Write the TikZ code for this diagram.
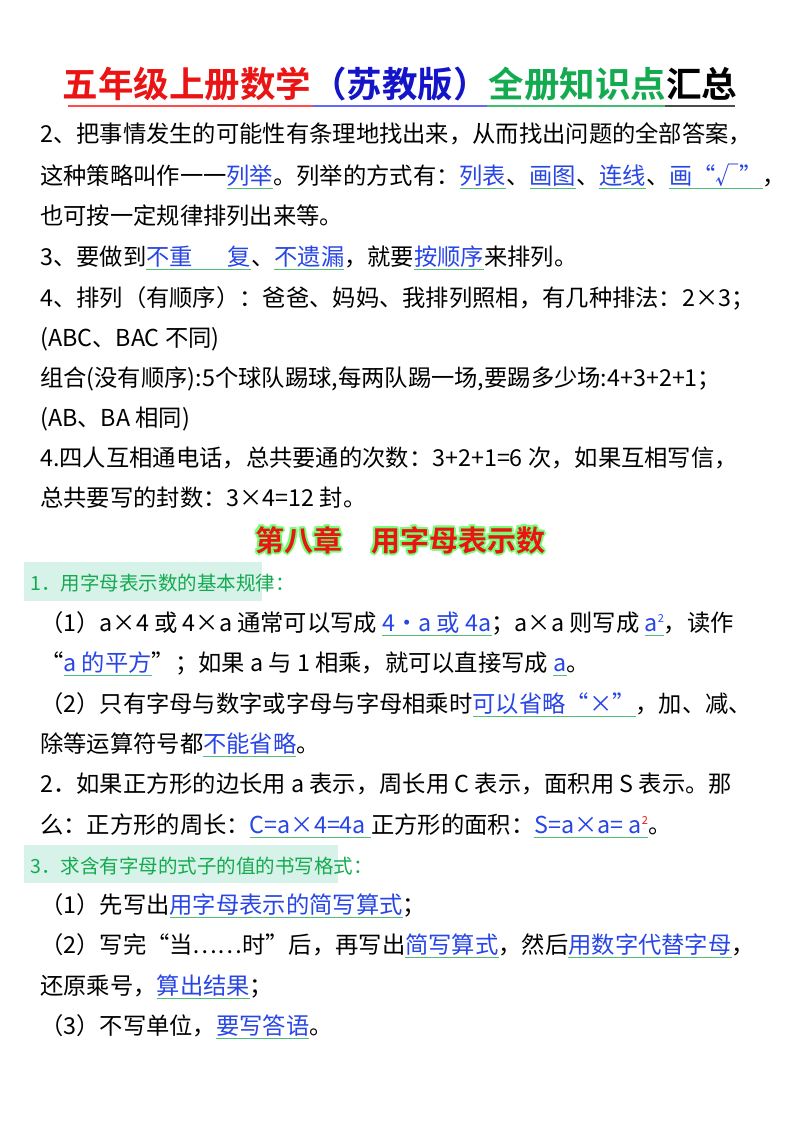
\documentclass[tikz,border=0pt]{standalone}
\usepackage{fontspec}
\setmainfont{Noto Sans CJK SC}
\newfontfamily\cjkb{Noto Sans CJK SC}[BoldFont={* Bold}]
\definecolor{kwblue}{RGB}{40,70,230}
\definecolor{ulgreen}{RGB}{80,190,120}
\definecolor{tgreen}{RGB}{20,170,80}
\definecolor{hlbg}{RGB}{215,242,232}
\definecolor{tred}{RGB}{235,20,20}
\definecolor{tblue}{RGB}{20,20,200}
\newcommand\kw[1]{\setbox0\hbox{{\color{kwblue}#1}}\rlap{{\color{ulgreen}\rule[-5pt]{\wd0}{1.3pt}}}\box0}
\newcommand\sq[1][kwblue]{\raisebox{9pt}{{\fontsize{11}{11}\selectfont\color{#1}2}}}
\begin{document}
\begin{tikzpicture}[x=1pt,y=-1pt,
  ln/.style={anchor=base west,inner sep=0pt,font=\fontsize{23.3}{26}\selectfont},
  hd/.style={anchor=base west,inner sep=0pt,font=\fontsize{19.5}{22}\selectfont,text=tgreen},
  chap/.style={anchor=base,inner sep=0pt,font=\cjkb\bfseries\fontsize{29}{32}\selectfont}]
\useasboundingbox[fill=white] (0,0) rectangle (800,1132);
% title
\node[anchor=base,inner sep=0pt,font=\cjkb\bfseries\fontsize{35.5}{38}\selectfont] (title) at (400,97)
 {{\color{tred}五年级上册数学}{\color{tblue}（苏教版）}{\color{tgreen}全册知识点}汇总};
\draw[line width=1.2pt,red!70] (68,106) -- (313,106);
\draw[line width=1.2pt,blue!60] (313,106) -- (487,106);
\draw[line width=1.2pt,tgreen!80] (487,106) -- (665,106);
\draw[line width=1.2pt,black!70] (665,106) -- (735,106);
% section
\node[ln] (l1) at (40,142) {2、把事情发生的可能性有条理地找出来，从而找出问题的全部答案，};
\node[ln] (l2) at (40,184) {这种策略叫作一一\kw{列举}。列举的方式有：\kw{列表}、\kw{画图}、\kw{连线}、\kw{画“√”}，};
\node[ln] (l3) at (40,224) {也可按一定规律排列出来等。};
\node[ln] (l4) at (40,265) {3、要做到\kw{不重\hspace{1.5em}复}、\kw{不遗漏}，就要\kw{按顺序}来排列。};
\node[ln] (l5) at (40,306) {4、排列（有顺序）：爸爸、妈妈、我排列照相，有几种排法：2×3；};
\node[ln] (l6) at (40,346) {(ABC、BAC 不同)};
\node[ln] (l7) at (40,386) {组合(没有顺序):5个球队踢球,每两队踢一场,要踢多少场:4+3+2+1；};
\node[ln] (l8) at (40,426) {(AB、BA 相同)};
\node[ln] (l9) at (40,466) {4.四人互相通电话，总共要通的次数：3+2+1=6 次，如果互相写信，};
\node[ln] (l10) at (40,506) {总共要写的封数：3×4=12 封。};
% chapter
\foreach \dx/\dy in {-2/0,2/0,0/-2,0/2,-1.5/-1.5,1.5/1.5,-1.5/1.5,1.5/-1.5}
  \node[chap,text=green!55!white] at (400+\dx,551+\dy) {第八章\quad 用字母表示数};
\node[chap,text=tred] (ch) at (400,551) {第八章\quad 用字母表示数};
\fill[hlbg] (24,562) rectangle (262,601);
\node[hd] (h1) at (30,590) {1．用字母表示数的基本规律：};
\node[ln] (m1) at (40,631) {（1）a×4 或 4×a 通常可以写成 \kw{4•a 或 4a}；a×a 则写成 \kw{a\sq}，读作};
\node[ln] (m2) at (40,671) {“\kw{a 的平方}”；如果 a 与 1 相乘，就可以直接写成 \kw{a}。};
\node[ln] (m3) at (40,712) {（2）只有字母与数字或字母与字母相乘时\kw{可以省略“×”}，加、减、};
\node[ln] (m4) at (40,752) {除等运算符号都\kw{不能省略}。};
\node[ln] (m5) at (40,792) {2．如果正方形的边长用 a 表示，周长用 C 表示，面积用 S 表示。那};
\node[ln] (m6) at (40,833) {么：正方形的周长：\kw{C=a×4=4a }正方形的面积：\kw{S=a×a= a\sq[tred]}。};
\fill[hlbg] (24,845) rectangle (338,883);
\node[hd] (h3) at (30,873) {3．求含有字母的式子的值的书写格式：};
\node[ln] (n1) at (40,913) {（1）先写出\kw{用字母表示的简写算式}；};
\node[ln] (n2) at (40,953) {（2）写完“当……时”后，再写出\kw{简写算式}，然后\kw{用数字代替字母}，};
\node[ln] (n3) at (40,994) {还原乘号，\kw{算出结果}；};
\node[ln] (n4) at (40,1034) {（3）不写单位，\kw{要写答语}。};
\end{tikzpicture}
\end{document}
